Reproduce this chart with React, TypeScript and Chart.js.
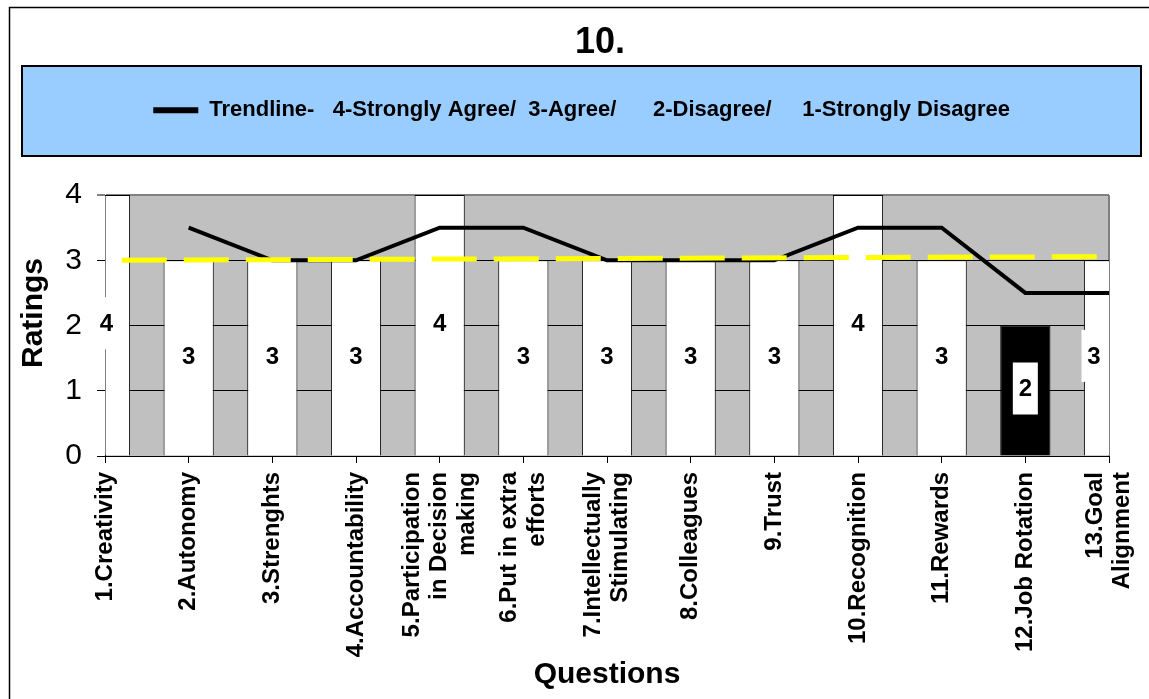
import React, { useEffect, useRef } from 'react';
import { Chart, registerables } from 'chart.js';

Chart.register(...registerables);

const CATEGORIES: (string | string[])[] = [
  '1.Creativity',
  '2.Autonomy',
  '3.Strenghts',
  '4.Accountability',
  ['5.Participation', 'in Decision', 'making'],
  ['6.Put in extra', 'efforts'],
  ['7.Intellectually', 'Stimulating'],
  '8.Colleagues',
  '9.Trust',
  '10.Recognition',
  '11.Rewards',
  '12.Job Rotation',
  ['13.Goal', 'Alignment'],
];
const RATINGS = [4, 3, 3, 3, 4, 3, 3, 3, 3, 4, 3, 2, 3];
const MOVING_AVG = [null, 3.5, 3, 3, 3.5, 3.5, 3, 3, 3, 3.5, 3.5, 2.5, 2.5];
const TREND_X = [0.2, 11.86];
const TREND_Y = [3.0, 3.055];
const Y_TICKS = [0, 1, 2, 3, 4];
const TITLE = '10.';
const LEGEND_TEXT = 'Trendline-   4-Strongly Agree/  3-Agree/      2-Disagree/     1-Strongly Disagree      ';
const Y_TITLE = '   Ratings';
const X_TITLE = 'Questions';
const HIGHLIGHT_INDEX = 11;

const FONT = "'Liberation Sans', Arial, sans-serif";
const CANVAS_W = 1190;
const CANVAS_H = 699;

const decor = {
  id: 'decor',
  beforeDraw(chart: any) {
    const { ctx, chartArea: a } = chart;
    ctx.save();
    ctx.fillStyle = '#ffffff';
    ctx.fillRect(0, 0, chart.width, chart.height);
    ctx.strokeStyle = '#000';
    ctx.lineWidth = 1.5;
    ctx.beginPath();
    ctx.moveTo(9.5, chart.height + 2);
    ctx.lineTo(9.5, 7.5);
    ctx.lineTo(chart.width + 2, 7.5);
    ctx.stroke();
    ctx.fillStyle = '#99CCFF';
    ctx.fillRect(22, 66, 1119, 90);
    ctx.lineWidth = 2;
    ctx.strokeStyle = '#000';
    ctx.strokeRect(22, 66, 1119, 90);
    ctx.fillStyle = '#C0C0C0';
    ctx.fillRect(a.left, a.top, a.right - a.left, a.bottom - a.top);
    ctx.strokeStyle = '#808080';
    ctx.lineWidth = 2;
    ctx.beginPath();
    ctx.moveTo(a.right, a.top);
    ctx.lineTo(a.right, a.bottom);
    ctx.stroke();
    ctx.restore();
    const xs = chart.scales.x;
    const items = xs.getLabelItems(chart.chartArea);
    for (const it of items) {
      if (it.__centered) continue;
      const n = Array.isArray(it.label) ? it.label.length : 1;
      const lh = (it.font && it.font.lineHeight) || 27.6;
      it.options.translation[0] -= ((n - 1) * lh) / 2;
      it.__centered = true;
    }
  },
};

const barLabels = {
  id: 'barLabels',
  afterDatasetsDraw(chart: any) {
    const meta = chart.getDatasetMeta(2);
    const a = chart.chartArea;
    const ctx = chart.ctx;
    ctx.save();
    ctx.font = `bold 24px ${FONT}`;
    ctx.textAlign = 'center';
    ctx.textBaseline = 'middle';
    meta.data.forEach((el: any, i: number) => {
      const p = el.getProps(['x', 'y', 'base'], true);
      const x = Math.min(Math.max(p.x, a.left + 1.5), a.right - 15);
      const y = (p.y + p.base) / 2 - 2;
      ctx.fillStyle = '#ffffff';
      ctx.fillRect(x - 12.5, y - 26, 25, 52);
      ctx.fillStyle = '#000';
      ctx.fillText(String(RATINGS[i]), x, y + 1);
    });
    ctx.restore();
  },
};

export default function App() {
  const ref = useRef<HTMLCanvasElement>(null);
  useEffect(() => {
    const canvas = ref.current!;
    Chart.defaults.font.family = FONT;
    Chart.defaults.color = '#000';
    const chart = new Chart(canvas, {
      type: 'bar',
      data: {
        labels: CATEGORIES as any,
        datasets: [
          {
            type: 'line',
            label: 'Linear trend',
            data: TREND_X.map((x, i) => ({ x, y: TREND_Y[i] })),
            xAxisID: 'xt',
            yAxisID: 'y',
            borderColor: '#FFFF00',
            borderWidth: 5,
            borderDash: [45, 17],
            pointRadius: 0,
            fill: false,
            order: 0,
          } as any,
          {
            type: 'line',
            label: 'Trendline',
            data: MOVING_AVG,
            xAxisID: 'x',
            yAxisID: 'y',
            borderColor: '#000',
            borderWidth: 4,
            pointRadius: 0,
            fill: false,
            tension: 0,
            order: 1,
          } as any,
          {
            type: 'bar',
            label: 'Ratings',
            data: RATINGS,
            xAxisID: 'x',
            yAxisID: 'y',
            backgroundColor: (c: any) => (c.dataIndex === HIGHLIGHT_INDEX ? '#000' : '#fff'),
            borderColor: '#000',
            borderWidth: 1,
            grouped: false,
            barPercentage: 0.6,
            categoryPercentage: 1,
            clip: { left: -0.5, top: 0, right: 0, bottom: 0 },
            order: 2,
          } as any,
        ],
      },
      options: {
        responsive: false,
        animation: false,
        events: [],
        layout: { padding: { top: 8, left: 10, right: 0, bottom: 0 } },
        plugins: {
          tooltip: { enabled: false },
          title: {
            display: true,
            text: TITLE,
            color: '#000',
            font: { size: 36, weight: 'bold' },
            padding: { top: 13, bottom: 2 },
          },
          subtitle: {
            display: true,
            text: ' ',
            position: 'top',
            weight: 500,
            font: { size: 10, lineHeight: 1 },
            padding: { top: 0, bottom: 53.8 },
          } as any,
          legend: {
            display: true,
            position: 'top',
            labels: {
              boxWidth: 45,
              boxHeight: 6,
              padding: 33,
              color: '#000',
              font: { size: 22, weight: 'bold' },
              generateLabels: () => [
                {
                  text: LEGEND_TEXT,
                  fillStyle: '#000',
                  strokeStyle: '#000',
                  lineWidth: 0,
                  hidden: false,
                  datasetIndex: 1,
                  fontColor: '#000',
                } as any,
              ],
            },
          },
        },
        scales: {
          x: {
            type: 'category',
            offset: false,
            grid: { offset: false, drawOnChartArea: false, color: '#000', tickColor: '#000', tickLength: 7 },
            border: { color: '#000', width: 1 },
            ticks: {
              autoSkip: false,
              maxRotation: 90,
              minRotation: 90,
              color: '#000',
              padding: 9,
              font: { size: 24, weight: 'bold', lineHeight: 1.15 },
            },
            title: {
              display: true,
              text: X_TITLE,
              color: '#000',
              font: { size: 30, weight: 'bold' },
              padding: { top: 4, bottom: 6 },
            },
            afterFit: (s: any) => {
              s.height = 243;
              s.paddingLeft = 0;
              s.paddingRight = 81;
            },
          },
          xt: {
            type: 'linear',
            axis: 'x',
            position: 'bottom',
            min: 0,
            max: 12,
            offset: false,
            grid: { offset: false },
            display: false,
          } as any,
          y: {
            min: 0,
            max: 4,
            afterBuildTicks: (s: any) => {
              s.ticks = Y_TICKS.map((v) => ({ value: v }));
            },
            ticks: { color: '#000', padding: 15, font: { size: 30 } },
            grid: {
              color: (c: any) => (c.tick && c.tick.value === 4 ? '#808080' : '#000'),
              lineWidth: (c: any) => (c.tick && c.tick.value === 4 ? 2 : 1),
              tickColor: '#000',
              tickWidth: 1,
              tickLength: 8,
            },
            border: { color: '#000', width: 1 },
            title: {
              display: true,
              text: Y_TITLE,
              color: '#000',
              font: { size: 30, weight: 'bold' },
              padding: { top: 6, bottom: 0 },
            },
            afterFit: (s: any) => {
              s.width = 95;
              s.paddingTop = 0;
              s.paddingBottom = 0;
            },
          },
        },
      } as any,
      plugins: [decor, barLabels],
    });
    return () => chart.destroy();
  }, []);

  return (
    <div
      style={{
        position: 'fixed',
        left: 0,
        top: 0,
        width: 1149,
        height: 699,
        overflow: 'hidden',
        background: '#fff',
      }}
    >
      <canvas ref={ref} width={CANVAS_W} height={CANVAS_H} style={{ display: 'block', width: CANVAS_W, height: CANVAS_H }} />
    </div>
  );
}
